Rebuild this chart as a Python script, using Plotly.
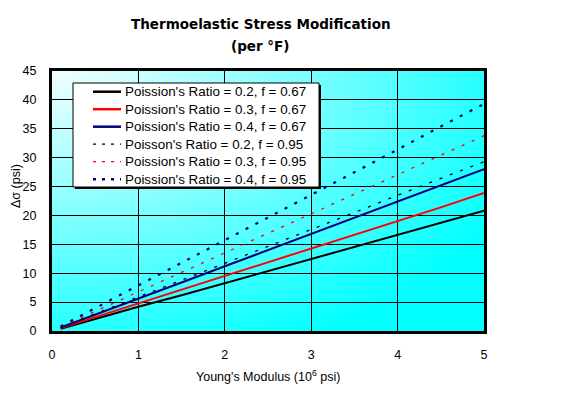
import base64, struct, zlib, math
import plotly.graph_objects as go

# ---------------- data ----------------
youngs_modulus = [0.1, 0.5, 1.0, 1.5, 2.0, 2.5, 3.0, 3.5, 4.0, 4.5, 5.0]
nu02_f067 = [0.4, 2.1, 4.2, 6.2, 8.3, 10.4, 12.5, 14.6, 16.6, 18.7, 20.8]
nu03_f067 = [0.5, 2.4, 4.8, 7.1, 9.5, 11.9, 14.3, 16.6, 19.0, 21.4, 23.9]
nu04_f067 = [0.6, 2.8, 5.6, 8.4, 11.2, 14.0, 16.8, 19.6, 22.4, 25.2, 28.0]
nu02_f095 = [0.6, 2.9, 5.9, 8.8, 11.7, 14.7, 17.6, 20.5, 23.5, 26.4, 29.3]
nu03_f095 = [0.7, 3.4, 6.8, 10.1, 13.5, 16.9, 20.3, 23.7, 27.0, 30.4, 33.8]
nu04_f095 = [0.8, 3.9, 7.9, 11.8, 15.7, 19.7, 23.6, 27.5, 31.4, 35.4, 39.3]
series_names = [
    "Poission's Ratio = 0.2, f = 0.67",
    "Poission's Ratio = 0.3, f = 0.67",
    "Poission's Ratio = 0.4, f = 0.67",
    "Poisson's Ratio = 0.2, f = 0.95",
    "Poission's Ratio = 0.3, f = 0.95",
    "Poission's Ratio = 0.4, f = 0.95",
]
x_ticks = [0, 1, 2, 3, 4, 5]
y_ticks = [0, 5, 10, 15, 20, 25, 30, 35, 40, 45]

# ---------------- layout geometry (pixels) ----------------
W, H = 576, 394
L, R, T, B = 52, 484, 71, 331
PW, PH = R - L, B - T

def px(xp):
    return (xp - L) / PW

def py(yp):
    return (B - yp) / PH

# ---------------- gradient background image ----------------
def make_png(w, h):
    rows = []
    for j in range(h):
        row = bytearray([0])
        v = j / (h - 1)
        for i in range(w):
            u = i / (w - 1)
            d = math.sqrt(u * u + v * v)
            t = min(d / 1.2, 1.0)
            r = int(round(242 * (1 - t)))
            row += bytes([r, 255, 255])
        rows.append(bytes(row))
    raw = b"".join(rows)
    def chunk(tag, data):
        c = struct.pack(">I", len(data)) + tag + data
        return c + struct.pack(">I", zlib.crc32(tag + data) & 0xFFFFFFFF)
    png = b"\x89PNG\r\n\x1a\n"
    png += chunk(b"IHDR", struct.pack(">IIBBBBB", w, h, 8, 2, 0, 0, 0))
    png += chunk(b"IDAT", zlib.compress(raw, 9))
    png += chunk(b"IEND", b"")
    return "data:image/png;base64," + base64.b64encode(png).decode()

bg = make_png(144, 88)

fig = go.Figure()
styles = [
    ("black", 2, "solid"),
    ("#ff0000", 2, "solid"),
    ("#000080", 2, "solid"),
    ("black", 1.3, "3px,8px"),
    ("#ff0000", 1.3, "3px,8px"),
    ("#000080", 2.2, "3px,8px"),
]
all_series = [nu02_f067, nu03_f067, nu04_f067, nu02_f095, nu03_f095, nu04_f095]
for name, ys, (col, w, dash) in zip(series_names, all_series, styles):
    fig.add_trace(go.Scatter(x=youngs_modulus, y=ys, mode="lines", name=name,
                             line=dict(color=col, width=w, dash=dash)))

axis_font = dict(family="Liberation Sans, Arial, sans-serif", size=12.5, color="black")
title_font = dict(family="DejaVu Sans, Verdana, sans-serif", size=13.5, color="black")

shapes = []
annotations = []

# manual legend
lg_l, lg_r, lg_t, lg_b = 73, 319, 83, 187
shapes.append(dict(type="rect", xref="paper", yref="paper", layer="above",
                   x0=px(lg_l + 2), x1=px(lg_r + 2), y0=py(lg_b + 2), y1=py(lg_t + 2),
                   fillcolor="black", line=dict(width=0)))
shapes.append(dict(type="rect", xref="paper", yref="paper", layer="above",
                   x0=px(lg_l), x1=px(lg_r), y0=py(lg_b), y1=py(lg_t),
                   fillcolor="white", line=dict(color="black", width=1)))
row_y = [91.7, 109.2, 126.7, 144.2, 161.7, 179.2]
leg_dash = ["solid", "solid", "solid", "3px,6px", "3px,6px", "3px,6px"]
leg_w = [2.5, 2.5, 2.5, 1.2, 1.2, 2.5]
for name, (col, w, dash), yy, ld, lw in zip(series_names, styles, row_y, leg_dash, leg_w):
    shapes.append(dict(type="line", xref="paper", yref="paper", layer="above",
                       x0=px(93), x1=px(121), y0=py(yy), y1=py(yy),
                       line=dict(color=col, width=lw, dash=ld)))
    annotations.append(dict(text=name, x=px(123), y=py(yy), xref="paper", yref="paper",
                            showarrow=False, xanchor="left", yanchor="middle",
                            font=dict(family="Liberation Sans, Arial, sans-serif", size=13.4,
                                      color="black")))

annotations += [
    dict(text="<b>Thermoelastic Stress Modification</b>", x=px(260.5), y=py(24),
         xref="paper", yref="paper", showarrow=False, xanchor="center", yanchor="middle",
         font=title_font),
    dict(text="<b>(per °F)</b>", x=px(260.5), y=py(46),
         xref="paper", yref="paper", showarrow=False, xanchor="center", yanchor="middle",
         font=title_font),
    dict(text="Young's Modulus (10<sup>6</sup> psi)", x=px(268), y=py(376),
         xref="paper", yref="paper", showarrow=False, xanchor="center", yanchor="middle",
         font=axis_font),
    dict(text="Δσ (psi)", x=px(16), y=py(186), textangle=-90,
         xref="paper", yref="paper", showarrow=False, xanchor="center", yanchor="middle",
         font=axis_font),
]

fig.update_layout(
    width=W, height=H,
    margin=dict(l=L, r=W - R, t=T, b=H - B, autoexpand=False),
    paper_bgcolor="white",
    plot_bgcolor="#00ffff",
    showlegend=False,
    font=axis_font,
    xaxis=dict(range=[0, 5], tickvals=x_ticks, showgrid=True, gridcolor="black", gridwidth=1,
               zeroline=False, showline=True, linecolor="black", linewidth=3, mirror=True,
               ticks="", ticklabelstandoff=10, tickfont=axis_font, fixedrange=True,
               automargin=False),
    yaxis=dict(range=[0, 45], tickvals=y_ticks, showgrid=True, gridcolor="black", gridwidth=1,
               zeroline=False, showline=True, linecolor="black", linewidth=3, mirror=True,
               ticks="", ticklabelstandoff=10, tickfont=axis_font, fixedrange=True,
               automargin=False),
    images=[dict(source=bg, xref="x domain", yref="y domain", x=0, y=1,
                 sizex=1, sizey=1, sizing="stretch", layer="below",
                 xanchor="left", yanchor="top")],
    shapes=shapes,
    annotations=annotations,
)
fig.write_html("out.html", config={"displayModeBar": False},
               post_script="document.body.style.margin='0px';")
